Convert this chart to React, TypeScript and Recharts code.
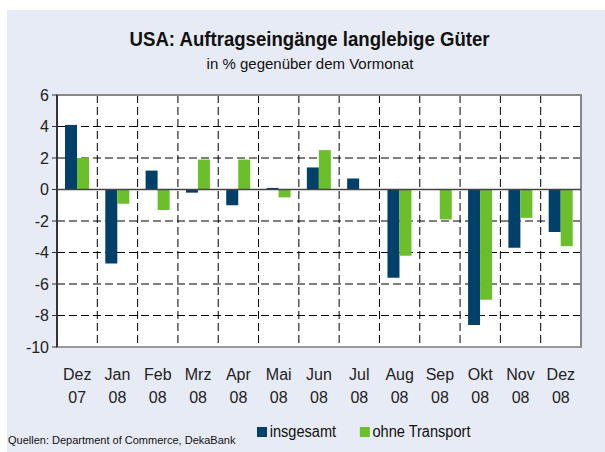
import React from "react";
import {
  BarChart,
  Bar,
  XAxis,
  YAxis,
  CartesianGrid,
  ReferenceLine,
  ReferenceArea,
} from "recharts";

const months = ["Dez", "Jan", "Feb", "Mrz", "Apr", "Mai", "Jun", "Jul", "Aug", "Sep", "Okt", "Nov", "Dez"];
const years = ["07", "08", "08", "08", "08", "08", "08", "08", "08", "08", "08", "08", "08"];
const insgesamt = [4.1, -4.7, 1.2, -0.2, -1.0, 0.1, 1.4, 0.7, -5.6, 0, -8.6, -3.7, -2.7];
const ohneTransport = [2.0, -0.9, -1.3, 1.9, 1.9, -0.5, 2.5, 0, -4.2, -1.9, -7.0, -1.8, -3.6];
const yTicks = [-10, -8, -6, -4, -2, 0, 2, 4, 6];

const BLUE = "#00406b";
const GREEN = "#6bbf2b";
const FONT = "'Liberation Sans', Arial, sans-serif";

const data = months.map((m, i) => ({
  name: `${m} ${years[i]}`,
  insgesamt: insgesamt[i],
  ohne: ohneTransport[i],
}));

// two-line month/year label under each category
const MonthTick = (props: any) => {
  const { x, y, payload } = props;
  const [m, yr] = String(payload.value).split(" ");
  return (
    <text x={x} y={y} textAnchor="middle" fontSize={16} fill="#222" fontFamily={FONT}>
      <tspan x={x} dy={25}>{m}</tspan>
      <tspan x={x} dy={23}>{yr}</tspan>
    </text>
  );
};

const App = () => {
  return (
    <div style={{ position: "absolute", left: 0, top: 0, width: 605, height: 452, background: "#fff", fontFamily: FONT }}>
      <div style={{ position: "absolute", left: 7, top: 10, right: 0, bottom: 0, background: "#e7ebf5" }} />
      <div style={{ position: "absolute", left: 0, width: 620, top: 28, textAlign: "center" }}>
        <span style={{ display: "inline-block", fontSize: 20, fontWeight: "bold", color: "#111", transform: "scaleX(0.93)" }}>
          USA: Auftragseingänge langlebige Güter
        </span>
      </div>
      <div style={{ position: "absolute", left: 0, width: 620, top: 55, textAlign: "center", fontSize: 15, color: "#111" }}>
        in % gegenüber dem Vormonat
      </div>
      <div style={{ position: "absolute", left: 0, top: 0 }}>
        <BarChart
          width={605}
          height={452}
          data={data}
          margin={{ top: 95, right: 24, bottom: 45, left: 10 }}
          barSize={12}
          barGap={0}
        >
          <CartesianGrid
            fill="#fff"
            stroke="#000"
            strokeDasharray="8 4"
            verticalCoordinatesGenerator={({ offset }: any) =>
              months.slice(1).map((_, i) => offset.left + ((i + 1) * offset.width) / months.length)
            }
          />
          <XAxis
            dataKey="name"
            interval={0}
            height={60}
            tickLine={false}
            axisLine={{ stroke: "#999", strokeWidth: 2 }}
            tick={<MonthTick />}
          />
          <YAxis
            domain={[-10, 6]}
            ticks={yTicks}
            width={47}
            interval={0}
            tickSize={5}
            tickMargin={3}
            axisLine={{ stroke: "#333", strokeWidth: 2 }}
            tickLine={{ stroke: "#333" }}
            tick={{ fontSize: 16, fill: "#222", fontFamily: FONT }}
          />
          <ReferenceArea y1={-10} y2={6} fill="none" stroke="#888" strokeWidth={2} ifOverflow="visible" />
          <ReferenceLine y={0} stroke="#444" strokeWidth={1.5} />
          <Bar dataKey="insgesamt" fill={BLUE} isAnimationActive={false} />
          <Bar dataKey="ohne" fill={GREEN} isAnimationActive={false} />
        </BarChart>
      </div>
      <div
        style={{
          position: "absolute",
          left: 257,
          top: 423,
          display: "flex",
          alignItems: "center",
          fontSize: 16,
          color: "#111",
          transform: "scaleX(0.91)",
          transformOrigin: "left center",
        }}
      >
        <span style={{ width: 11, height: 10, background: BLUE, marginRight: 3 }} />
        <span style={{ marginRight: 26 }}>insgesamt</span>
        <span style={{ width: 11, height: 10, background: GREEN, marginRight: 3 }} />
        <span>ohne Transport</span>
      </div>
      <div style={{ position: "absolute", left: 8, top: 434, fontSize: 11, color: "#111" }}>
        Quellen: Department of Commerce, DekaBank
      </div>
    </div>
  );
};

export default App;
